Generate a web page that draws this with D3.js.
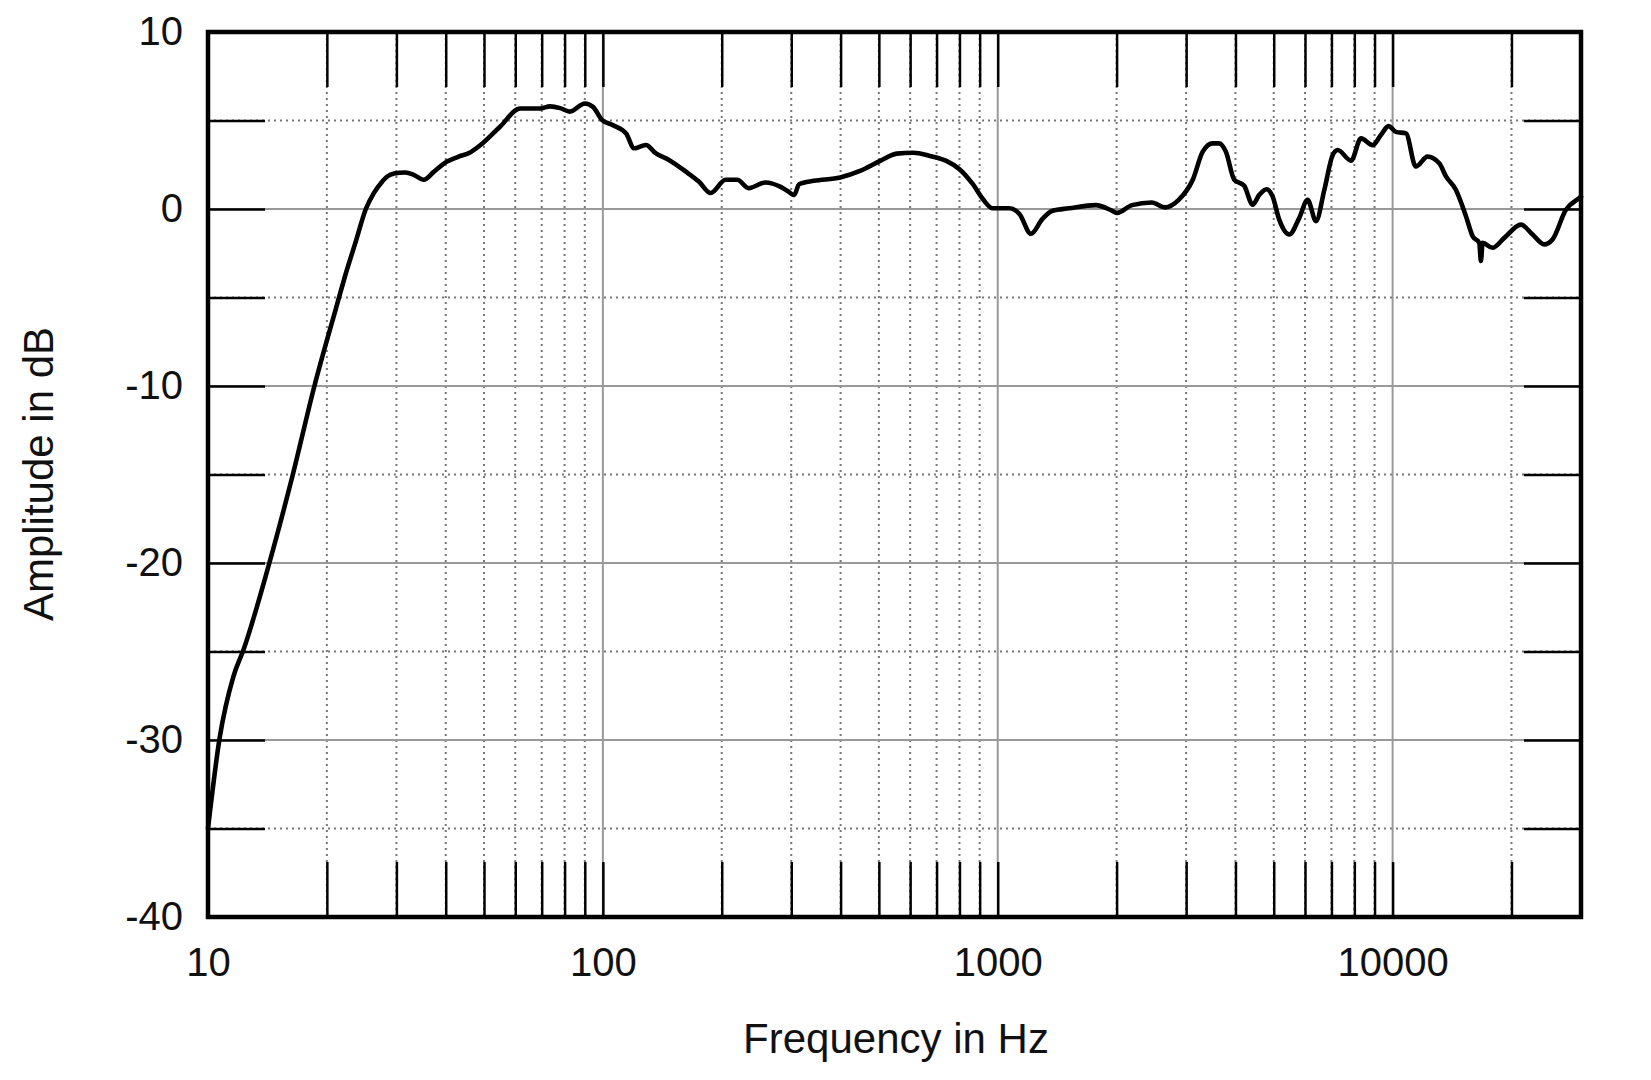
<!DOCTYPE html>
<html>
<head>
<meta charset="utf-8">
<script src="https://cdn.jsdelivr.net/npm/d3@7"></script>
<style>
  html, body { margin: 0; padding: 0; background: #fff; }
  svg { display: block; font-family: "Liberation Sans", Arial, Helvetica, sans-serif; }
</style>
</head>
<body>
<svg id="chart" width="1651" height="1080"></svg>
<script>
/* Loudspeaker frequency response */
const freqs = [10, 10.7, 11.6, 12.3, 14.3, 16.4, 18.6, 21.1, 22.3, 23.7, 25.1, 26.3, 27.5, 28.5, 29.6,
  31.6, 33.2, 35.2, 37.3, 40.3, 43, 46.1, 48.9, 54.9, 61.7, 69.3, 73.5, 78, 82.5, 90, 94.4,
  99.6, 106, 114.5, 120, 128.6, 136, 147, 162, 175, 187.6, 204.5, 219, 234, 258, 282, 293,
  305, 314, 342, 399, 448, 504, 555, 611, 673, 741, 800, 865, 917, 971, 1069, 1135, 1214,
  1298, 1376, 1515, 1770, 1950, 2006, 2188, 2455, 2654, 2868, 3118, 3305, 3501, 3637, 3782,
  3972, 4209, 4421, 4596, 4797, 4966, 5163, 5475, 5804, 6093, 6397, 6717, 7053, 7260, 7849,
  8318, 8900, 9340, 9770, 10190, 10810, 11450, 12260, 13130, 13650, 14460, 15340, 15950,
  16570, 16740, 16900, 17910, 19180, 21140, 22620, 24210, 25410, 27470, 29700, 30000];
const dbs = [-35, -29.9, -26.4, -24.9, -20.0, -15.0, -10.0, -5.6, -3.7, -1.8, 0.0, 0.9, 1.5, 1.85, 2.0,
  2.06, 1.93, 1.65, 2.1, 2.68, 2.95, 3.19, 3.6, 4.65, 5.68, 5.68, 5.8, 5.7, 5.5, 5.96, 5.77,
  5.02, 4.74, 4.27, 3.43, 3.62, 3.15, 2.77, 2.12, 1.55, 0.9, 1.65, 1.65, 1.18, 1.5, 1.25, 1.03,
  0.79, 1.4, 1.59, 1.78, 2.15, 2.72, 3.13, 3.18, 3.0, 2.72, 2.25, 1.4, 0.56, 0.04, 0.04, -0.28, -1.4,
  -0.56, -0.1, 0.04, 0.22, -0.1, -0.22, 0.22, 0.37, 0.09, 0.5, 1.65, 3.24, 3.71, 3.71, 3.24,
  1.65, 1.31, 0.24, 0.8, 1.12, 0.71, -0.6, -1.44, -0.5, 0.52, -0.69, 1.09, 3.05, 3.33, 2.73,
  3.99, 3.61, 4.18, 4.68, 4.36, 4.27, 2.40, 2.96, 2.58, 1.84, 1.09, -0.41, -1.54,
  -1.91, -2.94, -1.91, -2.19, -1.63, -0.88, -1.44, -2.0, -1.72, -0.04, 0.62, 0.7];

const xLabels = [10, 100, 1000, 10000];
const xDecades = [100, 1000, 10000];
const xMinor = [20, 30, 40, 50, 60, 70, 80, 90, 200, 300, 400, 500, 600, 700, 800, 900,
  2000, 3000, 4000, 5000, 6000, 7000, 8000, 9000, 20000];
const yLabels = [10, 0, -10, -20, -30, -40];
const ySolid = [0, -10, -20, -30];
const yDotted = [5, -5, -15, -25, -35];

const L = 208, R = 1581, T = 32, B = 917;
const svg = d3.select('#chart');
svg.append('rect').attr('width', 1651).attr('height', 1080).attr('fill', '#fff');

const x = d3.scaleLog().domain([10, 30000]).range([L, R]);
const y = d3.scaleLinear().domain([-40, 10]).range([B, T]);

// grid
const grid = svg.append('g');
grid.selectAll('.vd').data(xMinor).enter().append('line')
    .attr('x1', d => x(d)).attr('x2', d => x(d)).attr('y1', T).attr('y2', B)
    .attr('stroke', '#777').attr('stroke-width', 2).attr('stroke-dasharray', '2,4');
grid.selectAll('.hd').data(yDotted).enter().append('line')
    .attr('x1', L).attr('x2', R).attr('y1', d => y(d)).attr('y2', d => y(d))
    .attr('stroke', '#777').attr('stroke-width', 2).attr('stroke-dasharray', '2,4');
grid.selectAll('.vs').data(xDecades).enter().append('line')
    .attr('x1', d => x(d)).attr('x2', d => x(d)).attr('y1', T).attr('y2', B)
    .attr('stroke', '#999').attr('stroke-width', 2);
grid.selectAll('.hs').data(ySolid).enter().append('line')
    .attr('x1', L).attr('x2', R).attr('y1', d => y(d)).attr('y2', d => y(d))
    .attr('stroke', '#999').attr('stroke-width', 2);

// inward ticks
const allX = xMinor.concat(xDecades);
const yInner = ySolid.concat(yDotted);
function tickStyle(g) {
    g.select('.domain').remove();
    g.selectAll('.tick line').attr('stroke', '#000').attr('stroke-width', 2.5);
}
svg.append('g').attr('transform', `translate(0,${T})`)
    .call(d3.axisBottom(x).tickValues(allX).tickSize(55).tickFormat('')).call(tickStyle);
svg.append('g').attr('transform', `translate(0,${B})`)
    .call(d3.axisTop(x).tickValues(allX).tickSize(55).tickFormat('')).call(tickStyle);
svg.append('g').attr('transform', `translate(${L},0)`)
    .call(d3.axisRight(y).tickValues(yInner).tickSize(57).tickFormat('')).call(tickStyle);
svg.append('g').attr('transform', `translate(${R},0)`)
    .call(d3.axisLeft(y).tickValues(yInner).tickSize(57).tickFormat('')).call(tickStyle);

// labels (plain hyphen for negatives, as in the original)
function labelStyle(g) {
    g.select('.domain').remove();
    g.selectAll('.tick line').remove();
    g.selectAll('.tick text').attr('fill', '#111').style('font-size', '40px')
        .style('font-family', '"Liberation Sans", Arial, sans-serif');
}
svg.append('g').attr('transform', `translate(0,${B})`)
    .call(d3.axisBottom(x).tickValues(xLabels).tickSize(0).tickPadding(31).tickFormat(d => String(d)))
    .call(labelStyle);
svg.append('g').attr('transform', `translate(${L},0)`)
    .call(d3.axisLeft(y).tickValues(yLabels).tickSize(0).tickPadding(25).tickFormat(d => String(d)))
    .call(labelStyle);

// curve
const pts = freqs.map((f, i) => [f, dbs[i]]);
const line = d3.line().x(d => x(d[0])).y(d => y(d[1])).curve(d3.curveMonotoneX);
svg.append('path').datum(pts).attr('d', line)
    .attr('fill', 'none').attr('stroke', '#000').attr('stroke-width', 4.6)
    .attr('stroke-linejoin', 'round').attr('stroke-linecap', 'round');

// frame
svg.append('rect').attr('x', L).attr('y', T).attr('width', R - L).attr('height', B - T)
    .attr('fill', 'none').attr('stroke', '#000').attr('stroke-width', 4.5);

// titles
svg.append('text').attr('x', 896).attr('y', 1053).attr('text-anchor', 'middle')
    .style('font-size', '42px').attr('fill', '#111').text('Frequency in Hz');
svg.append('text').attr('transform', 'translate(53,474) rotate(-90)').attr('text-anchor', 'middle')
    .style('font-size', '42px').attr('fill', '#111').text('Amplitude in dB');
</script>
</body>
</html>
